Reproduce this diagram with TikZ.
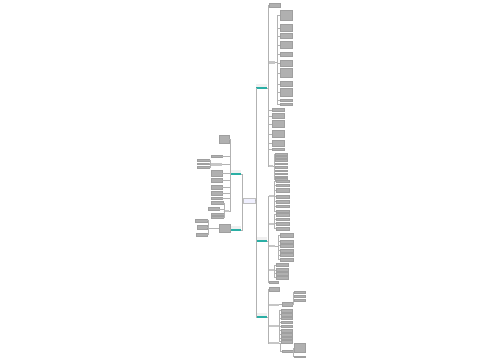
\documentclass[tikz,border=0pt]{standalone}
\definecolor{branchteal}{HTML}{2AAFA5}
\tikzset{
  leaf/.style={fill=gray!62,draw=gray!75,line width=0.2pt,inner sep=0pt,minimum width=12pt,minimum height=4pt,anchor=west},
  lleaf/.style={leaf,anchor=east},
  sub/.style={fill=gray!45,inner sep=0pt,minimum width=5pt,minimum height=2pt,anchor=west},
  lsub/.style={sub,anchor=east},
  branch/.style={fill=gray!12,inner sep=0pt,minimum width=11pt,minimum height=4pt,anchor=west,
    path picture={\draw[branchteal,line width=2.4pt] (path picture bounding box.south west) -- (path picture bounding box.south east);}},
  lbranch/.style={branch,anchor=east},
  link/.style={draw=gray!60,line width=0.35pt},
}
\begin{document}
\begin{tikzpicture}[x=1pt,y=-1pt]
  \useasboundingbox (0,0) rectangle (500,360);
  \fill[white] (0,0) rectangle (500,360);
  % root
  \node[draw=gray!50,fill=blue!6,line width=0.3pt,inner sep=0pt,minimum width=12pt,minimum height=5pt] (root) at (249,200.5) {};
  \coordinate (rt) at (255.7,0);
  \coordinate (lt) at (242.2,0);

  % right branches
  \node[branch] (r1) at (256,86) {};
  \node[branch] (r2) at (256,239) {};
  \node[branch] (r3) at (256,315) {};
  \foreach \b in {r1,r2,r3}
    \draw[link] (root.east) -- (root.east -| rt) |- (\b.south west);

  % first right branch
  \coordinate (t1) at (267.8,0);
  \foreach \n/\x/\y/\w/\h in {a1/269/5/11/4, b1/272/110/12/3, b2/272/116/12/5, b3/272/124/12/7,
      b4/272/134/12/7, b5/272/143.5/12/6, b6/272/149.5/12/2}{
    \node[leaf,minimum width=\w,minimum height=\h] (\n) at (\x,\y) {};
    \draw[link] (r1.south east) -- (r1.south east -| t1) |- (\n.west);
  }
  \node[sub,minimum width=6,minimum height=3] (s1) at (269,62) {};
  \node[sub,minimum width=4] (s2) at (269,166) {};
  \foreach \n in {s1,s2}
    \draw[link] (r1.south east) -- (r1.south east -| t1) |- (\n.west);
  \coordinate (ts1) at (277.5,0);
  \foreach \n/\y/\h in {s1a/15.5/10, s1b/28/7, s1c/36/5, s1d/45/7, s1e/54.5/4, s1f/63.5/6,
      s1g/73/9, s1h/84/5, s1i/92.5/8, s1j/100/2, s1k/104/2}{
    \node[leaf,minimum height=\h] (\n) at (280,\y) {};
    \draw[link] (s1.east) -- (s1.east -| ts1) |- (\n.west);
  }
  \coordinate (ts2) at (273.8,0);
  \foreach \n/\y in {s2a/154, s2b/157, s2c/160, s2d/163.5, s2e/167, s2f/170.5, s2g/173.5, s2h/176.5, s2i/179}{
    \node[leaf,minimum height=1.6] (\n) at (275,\y) {};
    \draw[link] (s2.east) -- (s2.east -| ts2) |- (\n.west);
  }

  % second right branch
  \coordinate (t2) at (267.8,0);
  \node[sub] (c1) at (269,196) {};
  \node[sub] (c2) at (269,223.5) {};
  \node[sub,minimum width=6] (c3) at (269,246) {};
  \node[sub] (c4) at (269,270) {};
  \node[leaf,minimum width=9,minimum height=2] (c5) at (269,282) {};
  \foreach \n in {c1,c2,c3,c4,c5}
    \draw[link] (r2.south east) -- (r2.south east -| t2) |- (\n.west);
  \coordinate (tc) at (274.6,0);
  \foreach \n/\y/\h in {c1a/181/1.6, c1b/185/1.6, c1c/190.5/4, c1d/196.5/2.4, c1e/201.5/2.4, c1f/206/1.6, c1g/211/1.6}{
    \node[leaf,minimum width=13,minimum height=\h] (\n) at (276,\y) {};
    \draw[link] (c1.east) -- (c1.east -| tc) |- (\n.west);
  }
  \foreach \n/\y/\h in {c2a/214.5/2.4, c2b/219/1.6, c2c/223.5/2.4, c2d/228.5/2.4}{
    \node[leaf,minimum width=13,minimum height=\h] (\n) at (276,\y) {};
    \draw[link] (c2.east) -- (c2.east -| tc) |- (\n.west);
  }
  \coordinate (tc3) at (278.6,0);
  \foreach \n/\y/\h in {c3a/235/4, c3b/241.5/2.4, c3c/245.5/2.4, c3d/250.5/2.4, c3e/255/3, c3f/259.5/2.4}{
    \node[leaf,minimum width=13,minimum height=\h] (\n) at (280,\y) {};
    \draw[link] (c3.east) -- (c3.east -| tc3) |- (\n.west);
  }
  \foreach \n/\y/\h in {c4a/265/3, c4b/270/3, c4c/273.5/2.4, c4d/277.5/2.4}{
    \node[leaf,minimum height=\h] (\n) at (276,\y) {};
    \draw[link] (c4.east) -- (c4.east -| tc) |- (\n.west);
  }

  % third right branch
  \coordinate (t3) at (267.8,0);
  \node[leaf,minimum width=10,minimum height=4] (d1) at (269,289) {};
  \node[sub,minimum width=10] (d2) at (269,304.5) {};
  \node[sub,minimum width=10] (d3) at (269,326) {};
  \node[sub,minimum width=10] (d4) at (269,343) {};
  \foreach \n in {d1,d2,d3,d4}
    \draw[link] (r3.south east) -- (r3.south east -| t3) |- (\n.west);
  \node[leaf,minimum width=10,minimum height=4] (d2a) at (282,304.5) {};
  \draw[link] (d2.east) -- (d2a.west);
  \coordinate (td2) at (292.8,0);
  \foreach \n/\y in {d2b/292, d2c/296, d2d/300}{
    \node[leaf,minimum width=11,minimum height=1.6] (\n) at (294,\y) {};
    \draw[link] (d2a.east) -- (d2a.east -| td2) |- (\n.west);
  }
  \coordinate (td3) at (279.6,0);
  \foreach \n/\y/\h in {d3a/310.5/2.4, d3b/314.5/2.4, d3c/318/1.6, d3d/322/1.6, d3e/326/1.6, d3f/330.5/2.4,
      d3g/334.5/2.4, d3h/338/1.6, d3i/341.5/2.4}{
    \node[leaf,minimum width=11,minimum height=\h] (\n) at (281,\y) {};
    \draw[link] (d3.east) -- (d3.east -| td3) |- (\n.west);
  }
  \coordinate (td4) at (280.6,0);
  \node[leaf,minimum width=11,minimum height=1.6] (d4a) at (282,351) {};
  \draw[link] (d4.east) -- (d4.east -| td4) |- (d4a.west);
  \coordinate (td5) at (293,0);
  \foreach \n/\y/\h in {d4b/348/9, d4c/356.5/1.6}{
    \node[leaf,minimum width=11,minimum height=\h] (\n) at (294,\y) {};
    \draw[link] (d4a.east) -- (d4a.east -| td5) |- (\n.west);
  }

  % left branches
  \node[lbranch,minimum width=10] (l1) at (241,172) {};
  \node[lbranch,minimum width=10] (l2) at (241,228) {};
  \foreach \b in {l1,l2}
    \draw[link] (root.west) -- (root.west -| lt) |- (\b.south east);

  % first left branch
  \coordinate (t4) at (230.4,0);
  \foreach \n/\x/\y/\w/\h in {e1/229/139.5/10/8, e2/222/156/11/1.6, e4/222/173.5/11/6, e5/222/180.5/11/4,
      e6/222/187.5/11/4, e7/222/193.5/11/4, e8/222/198/11/1.6}{
    \node[lleaf,minimum width=\w,minimum height=\h] (\n) at (\x,\y) {};
    \draw[link] (l1.south west) -- (l1.south west -| t4) |- (\n.east);
  }
  \node[lsub,minimum width=11,minimum height=2.4] (e3) at (222,164.5) {};
  \node[lsub] (e9) at (229,211) {};
  \foreach \n in {e3,e9}
    \draw[link] (l1.south west) -- (l1.south west -| t4) |- (\n.east);
  \coordinate (te3) at (210.4,0);
  \foreach \n/\y in {e3a/160, e3b/163.5, e3c/167}{
    \node[lleaf,minimum height=1.6] (\n) at (209,\y) {};
    \draw[link] (e3.west) -- (e3.west -| te3) |- (\n.east);
  }
  \coordinate (te9) at (224.4,0);
  \foreach \n/\x/\y/\w/\h in {e9a/223/203/12/3, e9b/219/209/11/3, e9c/223/214/12/1.6, e9d/223/217/12/1.6}{
    \node[lleaf,minimum width=\w,minimum height=\h] (\n) at (\x,\y) {};
    \draw[link] (e9.west) -- (e9.west -| te9) |- (\n.east);
  }

  % second left branch
  \node[lleaf,minimum width=11,minimum height=8] (f1) at (230,228.5) {};
  \draw[link] (l2.south west) -- (f1.east);
  \coordinate (tf) at (208.6,0);
  \foreach \n/\y/\w/\h in {f1a/220.5/12/2.4, f1b/227.5/10/4, f1c/234.5/11/2.4}{
    \node[lleaf,minimum width=\w,minimum height=\h] (\n) at (207,\y) {};
    \draw[link] (f1.west) -- (f1.west -| tf) |- (\n.east);
  }
\end{tikzpicture}
\end{document}
